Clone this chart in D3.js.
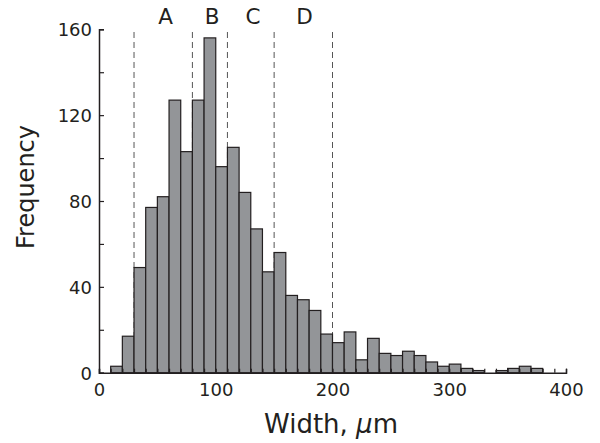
<!DOCTYPE html>
<html>
<head>
<meta charset="utf-8">
<script src="https://cdn.jsdelivr.net/npm/d3@7"></script>
<style>
body { margin: 0; background: #fff; }
svg { display: block; font-family: "DejaVu Sans", Verdana, sans-serif; }
</style>
</head>
<body>
<svg width="600" height="443"></svg>
<script>
// histogram, bins of 10 um starting at 10
var binStarts = [10, 20, 30, 40, 50, 60, 70, 80, 90, 100, 110, 120, 130, 140, 150, 160, 170, 180, 190, 200,
                 210, 220, 230, 240, 250, 260, 270, 280, 290, 300, 310, 320, 330, 340, 350, 360, 370];
var counts = [3, 17, 49, 77, 82, 127, 103, 127, 156, 96, 105, 84, 67, 47, 56, 36, 34, 29, 18, 14,
              19, 6, 16, 9, 8, 10, 8, 5, 3, 4, 2, 1, 0, 1, 2, 3, 2];
var binWidth = 10;
var yTicks = [0, 40, 80, 120, 160];
var xTicks = [0, 100, 200, 300, 400];
var cutLines = [30, 80, 110, 150, 200];
var groupNames = ["A", "B", "C", "D"];
var groupPos = [57, 97, 132, 176];

var bins = binStarts.map(function(s, i){ return {start: s, n: counts[i]}; })
    .filter(function(b){ return b.n > 0; });

var svg = d3.select("svg");
var x = d3.scaleLinear().domain([0, 400]).range([99, 566]);
var y = d3.scaleLinear().domain([0, 160]).range([372.7, 29.3]);
var ink = "#231f20";

// dashed region lines (behind bars)
svg.selectAll(".cut").data(cutLines).enter().append("line")
    .attr("x1", function(d){ return x(d); }).attr("x2", function(d){ return x(d); })
    .attr("y1", 32).attr("y2", y(0))
    .attr("stroke", "#555").attr("stroke-width", 1)
    .attr("stroke-dasharray", "6,4");

svg.selectAll(".bar").data(bins).enter().append("rect")
    .attr("x", function(d){ return x(d.start); })
    .attr("y", function(d){ return y(d.n); })
    .attr("width", x(binWidth) - x(0))
    .attr("height", function(d){ return y(0) - y(d.n); })
    .attr("fill", "#939598").attr("stroke", ink).attr("stroke-width", 1.2);

// axes
var yAxis = d3.axisLeft(y).tickValues(d3.range(0, 161, 20)).tickSize(-5)
    .tickFormat(function(d){ return yTicks.indexOf(d) >= 0 ? d : ""; });
var gy = svg.append("g").attr("transform", "translate(" + x(0) + ",0)").call(yAxis);
var xAxis = d3.axisBottom(x).tickValues(d3.range(0, 401, 10)).tickSize(-4)
    .tickFormat(function(d){ return xTicks.indexOf(d) >= 0 ? d : ""; });
var gx = svg.append("g").attr("transform", "translate(0," + y(0) + ")").call(xAxis);

[gx, gy].forEach(function(g){
    g.select(".domain").attr("stroke", ink).attr("stroke-width", 1.5);
    g.selectAll(".tick line").attr("stroke", ink).attr("stroke-width", 1.2);
    g.selectAll(".tick text").attr("fill", ink).attr("font-size", 18)
        .attr("font-family", "DejaVu Sans, Verdana, sans-serif");
});
gy.selectAll(".tick text").attr("x", -7).attr("dy", "0.36em");
gx.selectAll(".tick text").attr("y", 11);

// group letters
svg.selectAll(".grp").data(groupNames).enter().append("text")
    .attr("x", function(d, i){ return x(groupPos[i]); })
    .attr("y", 24)
    .attr("text-anchor", "middle").attr("font-size", 21.5).attr("fill", ink)
    .text(function(d){ return d; });

// axis titles
svg.append("text")
    .attr("transform", "translate(34,187) rotate(-90)")
    .attr("text-anchor", "middle").attr("font-size", 24).attr("fill", ink)
    .text("Frequency");
var xt = svg.append("text")
    .attr("x", 331).attr("y", 433)
    .attr("text-anchor", "middle").attr("font-size", 26).attr("fill", ink);
xt.append("tspan").text("Width, ");
xt.append("tspan").attr("font-style", "italic").text("μ");
xt.append("tspan").text("m");
</script>
</body>
</html>
